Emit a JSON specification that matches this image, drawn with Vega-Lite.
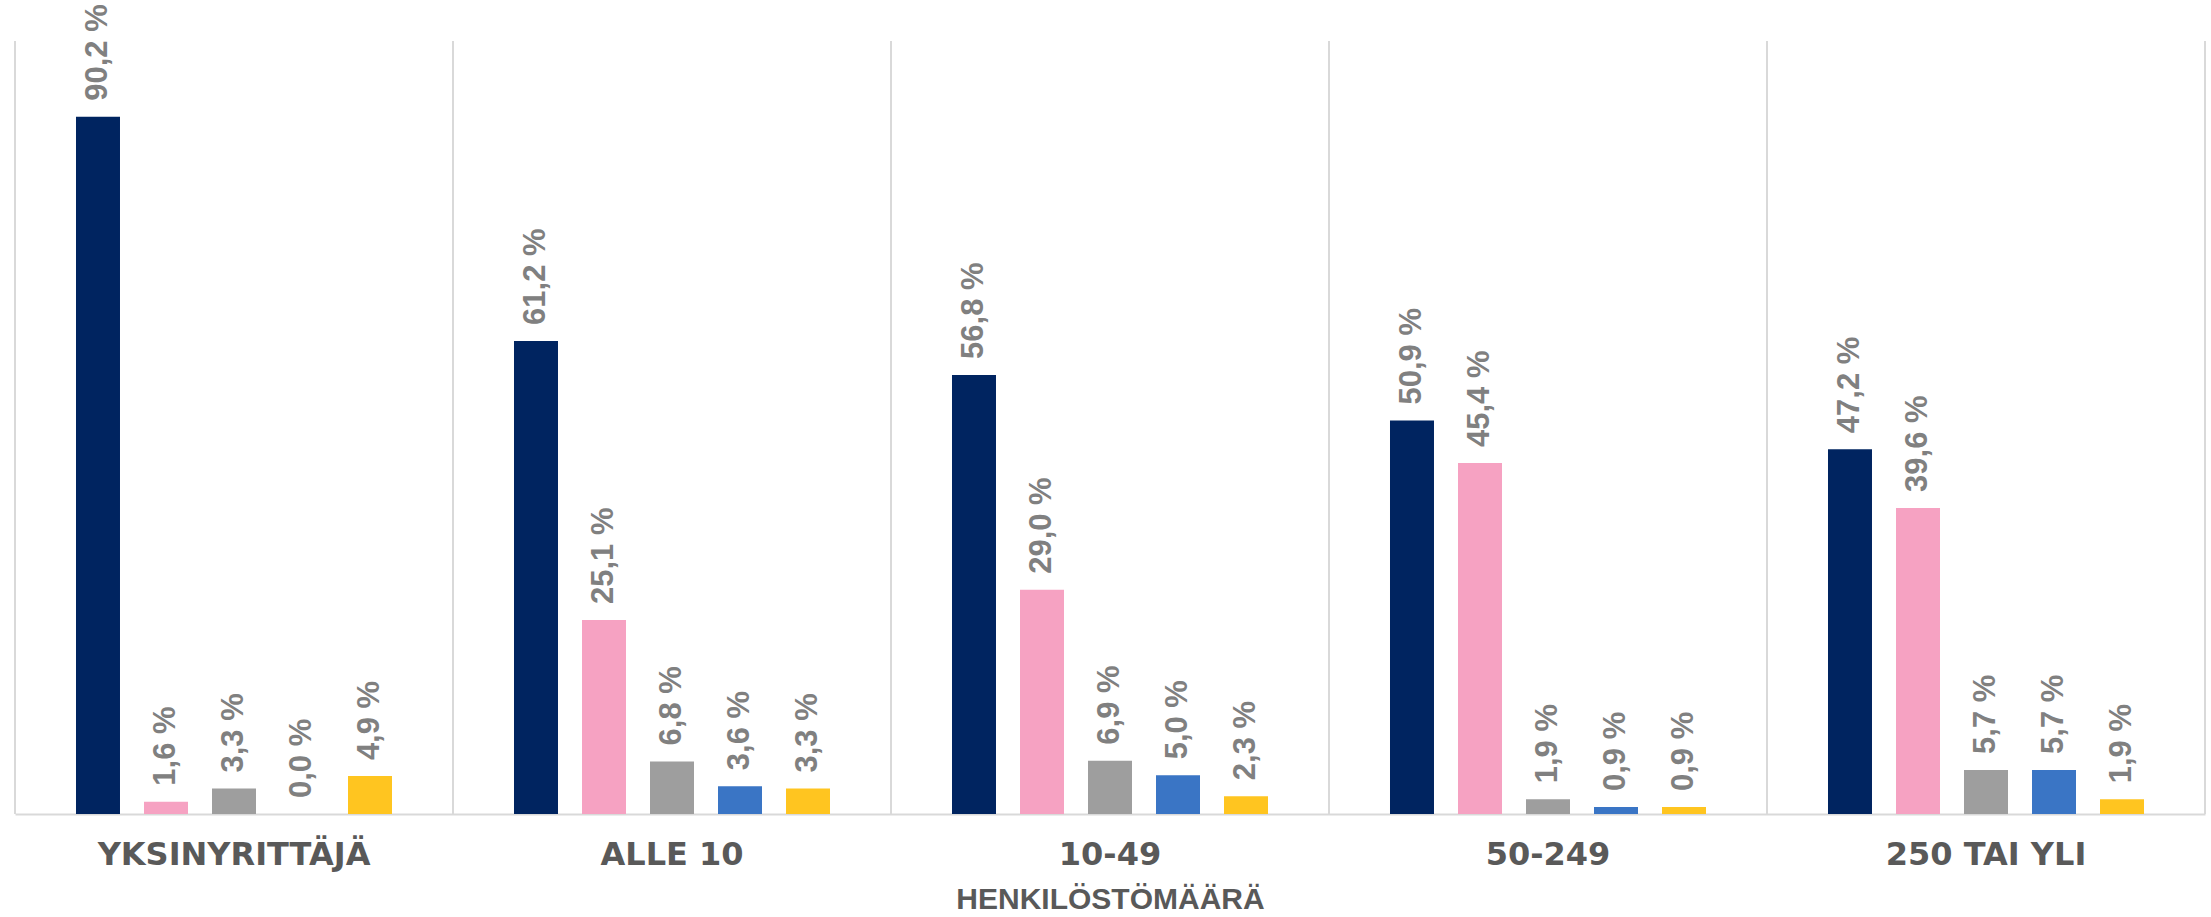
{
  "$schema": "https://vega.github.io/schema/vega-lite/v6.json",
  "width": 2190,
  "height": 773,
  "autosize": "none",
  "padding": {"left": 15, "top": 41, "right": 6, "bottom": 103},
  "background": "white",
  "config": {
    "view": {"stroke": null},
    "locale": {"number": {"decimal": ",", "thousands": "\u00a0", "grouping": [3], "currency": ["", "\u00a0€"], "percent": "\u00a0%"}}
  },
  "data": {
    "values": [
      {"ryhma": "YKSINYRITTÄJÄ", "sarja": "A", "osuus": 0.902},
      {"ryhma": "YKSINYRITTÄJÄ", "sarja": "B", "osuus": 0.016},
      {"ryhma": "YKSINYRITTÄJÄ", "sarja": "C", "osuus": 0.033},
      {"ryhma": "YKSINYRITTÄJÄ", "sarja": "D", "osuus": 0.0},
      {"ryhma": "YKSINYRITTÄJÄ", "sarja": "E", "osuus": 0.049},
      {"ryhma": "ALLE 10", "sarja": "A", "osuus": 0.612},
      {"ryhma": "ALLE 10", "sarja": "B", "osuus": 0.251},
      {"ryhma": "ALLE 10", "sarja": "C", "osuus": 0.068},
      {"ryhma": "ALLE 10", "sarja": "D", "osuus": 0.036},
      {"ryhma": "ALLE 10", "sarja": "E", "osuus": 0.033},
      {"ryhma": "10-49", "sarja": "A", "osuus": 0.568},
      {"ryhma": "10-49", "sarja": "B", "osuus": 0.290},
      {"ryhma": "10-49", "sarja": "C", "osuus": 0.069},
      {"ryhma": "10-49", "sarja": "D", "osuus": 0.050},
      {"ryhma": "10-49", "sarja": "E", "osuus": 0.023},
      {"ryhma": "50-249", "sarja": "A", "osuus": 0.509},
      {"ryhma": "50-249", "sarja": "B", "osuus": 0.454},
      {"ryhma": "50-249", "sarja": "C", "osuus": 0.019},
      {"ryhma": "50-249", "sarja": "D", "osuus": 0.009},
      {"ryhma": "50-249", "sarja": "E", "osuus": 0.009},
      {"ryhma": "250 TAI YLI", "sarja": "A", "osuus": 0.472},
      {"ryhma": "250 TAI YLI", "sarja": "B", "osuus": 0.396},
      {"ryhma": "250 TAI YLI", "sarja": "C", "osuus": 0.057},
      {"ryhma": "250 TAI YLI", "sarja": "D", "osuus": 0.057},
      {"ryhma": "250 TAI YLI", "sarja": "E", "osuus": 0.019}
    ]
  },
  "layer": [
    {
      "transform": [{"filter": "datum.sarja === 'A'"}],
      "mark": {"type": "rule", "color": "#d9d9d9", "strokeWidth": 2},
      "encoding": {
        "x": {
          "field": "ryhma", "type": "nominal",
          "sort": ["YKSINYRITTÄJÄ", "ALLE 10", "10-49", "50-249", "250 TAI YLI"],
          "bandPosition": 0,
          "scale": {"paddingInner": 0, "paddingOuter": 0},
          "axis": {
            "domain": true, "domainColor": "#d9d9d9", "domainWidth": 2,
            "ticks": false, "tickSize": 0, "grid": false,
            "labelAngle": 0, "labelFont": "DejaVu Sans", "labelFontWeight": "bold", "labelFontSize": 32,
            "labelColor": "#595959", "labelBaseline": "alphabetic", "labelPadding": 50, "labelLimit": 0,
            "title": "HENKILÖSTÖMÄÄRÄ", "titleFont": "Liberation Sans",
            "titleFontSize": 30, "titleFontWeight": "bold", "titleColor": "#595959",
            "titleY": 94, "titleBaseline": "alphabetic"
          }
        }
      }
    },
    {
      "transform": [{"filter": "datum.sarja === 'A' && datum.ryhma === '250 TAI YLI'"}],
      "mark": {"type": "rule", "color": "#d9d9d9", "strokeWidth": 2},
      "encoding": {
        "x": {"field": "ryhma", "type": "nominal", "sort": ["YKSINYRITTÄJÄ", "ALLE 10", "10-49", "50-249", "250 TAI YLI"], "bandPosition": 1}
      }
    },
    {
      "mark": {"type": "bar"},
      "encoding": {
        "x": {"field": "ryhma", "type": "nominal", "sort": ["YKSINYRITTÄJÄ", "ALLE 10", "10-49", "50-249", "250 TAI YLI"]},
        "xOffset": {"field": "sarja", "type": "nominal", "scale": {"paddingInner": 0.353, "paddingOuter": 0.897}},
        "y": {"field": "osuus", "type": "quantitative", "scale": {"domain": [0, 1]}, "axis": null},
        "color": {
          "field": "sarja", "type": "nominal",
          "scale": {"domain": ["A", "B", "C", "D", "E"], "range": ["#002460", "#F6A2C2", "#9E9E9E", "#3A75C5", "#FFC520"]},
          "legend": null
        }
      }
    },
    {
      "mark": {"type": "text", "angle": 270, "align": "left", "baseline": "middle", "dx": 16, "font": "Liberation Sans", "fontWeight": "bold", "fontSize": 31, "color": "#808080"},
      "encoding": {
        "x": {"field": "ryhma", "type": "nominal", "sort": ["YKSINYRITTÄJÄ", "ALLE 10", "10-49", "50-249", "250 TAI YLI"]},
        "xOffset": {"field": "sarja", "type": "nominal"},
        "y": {"field": "osuus", "type": "quantitative"},
        "text": {"field": "osuus", "type": "quantitative", "format": ".1%"}
      }
    }
  ]
}
